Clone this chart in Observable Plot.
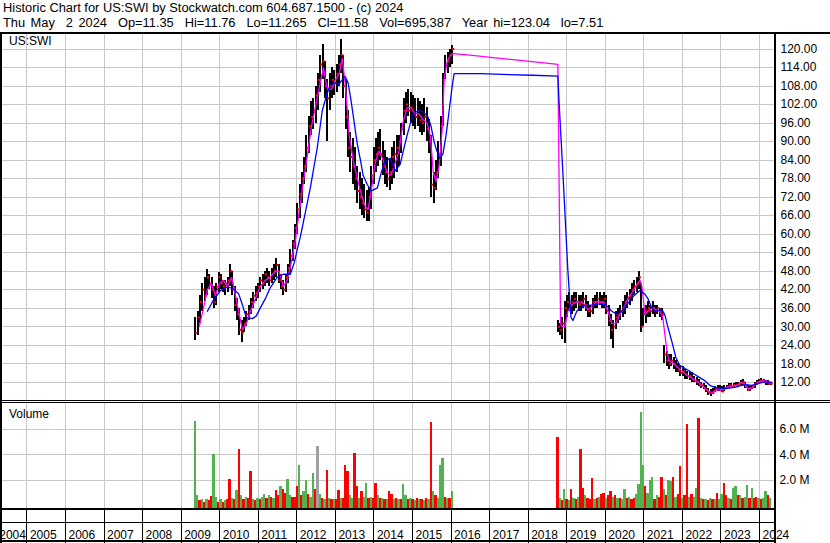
<!DOCTYPE html>
<html><head><meta charset="utf-8">
<script src="https://cdn.jsdelivr.net/npm/d3@7"></script>
<script src="https://cdn.jsdelivr.net/npm/@observablehq/plot@0.6"></script>
<style>
html,body{margin:0;padding:0;background:#fff;}
body{width:830px;height:543px;position:relative;overflow:hidden;font-family:"Liberation Sans",Arial,sans-serif;color:#000;}
.abs{position:absolute;}
.ttl{position:absolute;left:3px;font-size:12.85px;line-height:14.6px;white-space:pre;}
.ln{position:absolute;background:#000;}
.lbl{position:absolute;font-size:12px;line-height:12px;white-space:pre;}
svg{overflow:visible;}
</style></head><body>
<div class="ttl" style="top:1px">Historic Chart for US:SWI by Stockwatch.com 604.687.1500 - (c) 2024</div>
<div class="ttl" style="top:15.6px;word-spacing:1.9px">Thu May  2 2024  Op=11.35  Hi=11.76  Lo=11.265  Cl=11.58  Vol=695,387  Year hi=123.04  lo=7.51</div>
<div id="price" class="abs" style="left:0;top:32px"></div>
<div id="vol" class="abs" style="left:0;top:403px"></div>
<div id="years" class="abs" style="left:0;top:510px"></div>
<div class="lbl" style="left:9px;top:35px">US:SWI</div>
<div class="lbl" style="left:9px;top:408px">Volume</div>
<div class="ln" style="left:0;top:32px;width:830px;height:2px"></div>
<div class="ln" style="left:0;top:32px;width:2px;height:511px"></div>
<div class="ln" style="left:774px;top:32px;width:2px;height:511px"></div>
<div class="ln" style="left:0;top:400px;width:830px;height:1px"></div>
<div class="ln" style="left:0;top:402px;width:830px;height:1px"></div>
<div class="ln" style="left:0;top:508px;width:776px;height:2px"></div>
<div class="ln" style="left:0;top:522px;width:776px;height:1px"></div>
<div class="ln" style="left:0;top:540px;width:776px;height:2px"></div>
<script>
// ---- tick labels / categories ----
const priceTicks = [12,18,24,30,36,42,48,54,60,66,72,78,84,90,96,102,108,114,120];
const volTicks = [2,4,6];
const yearBounds = [2005,2006,2007,2008,2009,2010,2011,2012,2013,2014,2015,2016,2017,2018,2019,2020,2021,2022,2023,2024];
const yearLabels = ["2004","2005","2006","2007","2008","2009","2010","2011","2012","2013","2014","2015","2016","2017","2018","2019","2020","2021","2022","2023","2024"];

// ---- bar sampling (decimal years) ----
const stepYears = 0.06;
const startA = 2009.37;   // first listing period
const startB = 2018.77;   // relisting period

// ---- period A (2009-2016) ----
const lowA = [25.5,27,31,35,38,40,42,39,36,37, 41,42,41,40,41,43,40,35,32,27, 25,28,30,32,34,36,38,39,41,42,
 43,44,43,44,45,46,44,42,40,41, 44,47,51,55,60,65,70,76,80,86, 92,94,96,100,106,110,104,90,100,104,
 105,106,108,112,104,94,85,80,76,74, 70,68,66,65,64,64,68,76,80,82, 84,79,76,75,74,76,78,80,82,86,
 92,96,98,96,95,94,95,93,92,93, 90,86,72,70,74,78,82,95,110,112, 114,115];
const highA = [33,35,40,44,46,48.5,47,46,43,44, 47.5,47,45,45,46,50,48,43,39,36, 32,33,35,37,39,41,43,44,46,47,
 48,49,48,49,50,52,50,47,45,47, 50,55,58,63,70,76,80,85,92,98, 103,104,108,112,118,121.5,116,110,112,114,
 113,115,118,123,118,110,100,93,91,88, 82,80,78,76,74,75,82,88,91,93, 94,90,87,85,84,88,90,92,92,96,
 104,106,107,106,105,104,104,103,102,104, 101,97,92,80,84,90,98,112,118,119, 120,121];
const closeA = [28,33,38,42,40,46,44,42,38,43, 46,44,43,44,45,48,42,37,34,29, 28,31,34,35,38,40,41,43,45,44,
 47,46,45,47,48,50,45,43,42,46, 49,53,57,62,68,73,78,82,88,95, 98,100,105,110,115,116,108,104,108,110,
 109,112,115,118,108,98,88,85,82,78, 74,72,70,68,67,72,79,84,86,88, 86,82,80,78,80,85,86,88,90,94,
 100,102,100,101,99,98,100,97,96,98, 94,90,76,75,80,86,95,110,115,116, 118,120];
const volA = [6.6,0.85,0.4,0.5,0.3,0.5,0.4,0.75,4.0,0.7, 0.3,0.5,0.3,0.4,0.5,2.1,0.6,0.5,1.2,4.4,
 0.8,0.5,0.7,0.6,2.7,0.5,0.4,0.6,0.5,0.7, 0.9,0.6,0.8,0.7,0.6,1.2,0.8,1.5,1.3,1.0,
 2.1,0.8,0.7,0.7,1.5,3.15,0.8,1.1,2.0,0.9, 0.7,2.55,1.3,4.7,0.9,0.6,0.5,2.75,0.6,0.5,
 0.5,0.5,1.25,0.6,0.6,3.15,2.7,0.8,0.6,4.1, 1.5,0.6,1.1,0.7,1.8,0.6,0.7,0.6,1.8,0.8,
 0.6,0.6,0.5,0.5,1.1,0.9,0.5,0.6,0.5,0.5, 1.7,0.8,0.5,0.6,0.5,0.4,0.6,0.5,0.5,0.4,
 0.6,0.5,6.55,1.1,0.8,0.6,3.2,3.7,0.7,0.6, 0.6,1.1];
const dirA = ("ggrgrgrrgg"+"rgrgrrgrgr"+"grgrrgrgrg"+"grgrgrrgrr"+"ggrrrgrggr"+"ggrngrgrgr"+
 "grrgrrrggr"+"rgrggrgrrg"+"rgrgrrgrgr"+"ggrgrgrgrg"+"rgrgrgggrg"+"rg").split("");

// ---- period B (2018-2024) ----
const lowB = [28,27,26,24.5,33,35,34,35,36,35, 35,36,35,33,33,34,36,36,37,36, 36,34,30,26,23,29,31,32,33,34,
 36,37,38,40,41,42,28,30,31,33, 33,34,33,34,33,32,18,17,16,17, 16,15,15,14,14,13,13,12.5,12,12,
 11,10.5,10,9.5,8.5,7.6,7.5,8,8.5,9, 9,8.5,9,9.5,10,10,10,10.5,10.5,11, 11,10,9,9,9.5,10,11,11.5,11.5,11.5, 11,11,11];
const highB = [32,31,33,38,40,41,40,41,41,40, 40,41,40,38,37,39,40,41,41,40, 41,40,37,34,32,35,36,37,38,40,
 41,42,44,45,46,48,44,36,37,38, 37,38,37,37,36,36,24,22,21,21, 20,19,18,17,17,16,15.5,15,15,14,
 13.5,13,12,11.5,11,10,9.5,10,10.5,11, 11,10.5,11,11,11.5,11.5,11.5,12,12,12.5, 13,12,11,10.5,11,12,12.5,13,13.3,13, 12.5,12.5,12];
const closeB = [30,29,31,36,38,37,38,39,38,37, 38,39,37,35,35,38,38,39,38,38, 39,35,32,29,30,33,34,35,36,38,
 39,40,42,43,44,46,30,34,35,36, 35,36,35,36,35,34,21,19,18,19, 18,17,16,15,15.5,14.5,14,14,13,12.5,
 12,11,11,10,9.5,8.5,8.5,9,10,10, 9.5,9,10,10.5,11,10.5,11,11,11.5,12, 12,10.5,9.5,10,10.5,11.5,12,12.5,12.5,12, 12,11.5,11.6];
const volB = [5.4,0.6,0.4,1.3,0.5,0.4,1.3,0.6,0.5,0.7, 4.4,1.4,0.8,0.6,0.5,2.15,0.5,0.6,0.7,0.9,
 1.0,0.6,0.8,1.1,0.7,0.8,0.6,0.6,0.5,1.3, 0.6,0.7,0.5,0.6,0.9,1.7,7.3,3.2,1.5,1.0,
 2.0,2.2,0.5,0.8,0.7,2.2,1.3,0.8,2.0,1.9, 2.2,0.7,0.9,3.1,0.6,0.8,6.4,0.7,0.9,0.7,
 1.4,6.9,0.6,0.5,0.5,0.4,0.6,0.5,0.5,1.0, 0.5,0.9,1.8,0.8,0.6,0.5,1.4,1.5,0.8,0.8,
 0.6,0.7,1.6,0.6,1.4,0.6,0.7,0.6,0.5,0.6, 1.1,0.8,0.6];
const dirB = ("rgrgrgrgrg"+"rrgrrrgrgr"+"rgrrgrgrgg"+"rgrrggggrg"+"ggrgrrgrgg"+"rgrrgrrgrg"+
 "grgrgrgrgr"+"ggrrgrggrg"+"rggrgrrgrg"+"grg").split("");

// ---- moving averages [year, value] ----
const maShort = [[2009.47,30],[2009.58,36],[2009.68,42],[2009.79,44],[2009.89,40],[2009.99,44],[2010.10,45],[2010.20,43],[2010.31,46],[2010.38,42],[2010.49,35],[2010.59,29],[2010.69,31],[2010.80,35],[2010.92,39],[2011.05,43],[2011.18,45],[2011.31,46],[2011.44,48],[2011.54,48],[2011.65,43],[2011.75,45],[2011.86,51],[2011.96,58],[2012.07,68],[2012.17,77],[2012.28,86],[2012.38,95],[2012.48,101],[2012.59,108],[2012.69,114],[2012.79,107],[2012.90,107],[2013.00,110],[2013.10,112],[2013.18,117],[2013.26,108],[2013.36,92],[2013.46,84],[2013.57,78],[2013.67,73],[2013.77,69],[2013.85,68],[2013.93,74],[2014.03,83],[2014.13,87],[2014.24,84],[2014.34,80],[2014.44,79],[2014.55,83],[2014.65,87],[2014.75,96],[2014.86,101],[2014.96,101],[2015.07,99],[2015.17,99],[2015.28,97],[2015.38,96],[2015.46,92],[2015.54,80],[2015.61,77],[2015.69,82],[2015.77,94],[2015.82,110],[2015.90,116],[2015.98,118],[2016.05,118.5],[2016.49,118],[2017.27,117],[2018.04,116],[2018.77,115],[2018.84,31],[2018.87,30],[2018.95,30],[2019.03,35],[2019.13,37],[2019.24,38],[2019.34,38],[2019.44,37.5],[2019.55,35.5],[2019.65,36.5],[2019.75,38],[2019.86,38],[2019.96,38],[2020.07,35],[2020.17,31],[2020.27,31],[2020.38,34],[2020.48,36],[2020.58,39],[2020.69,41],[2020.79,43],[2020.90,45],[2020.95,43],[2021.03,34],[2021.11,35],[2021.21,36],[2021.31,35.5],[2021.41,35],[2021.49,33],[2021.60,22],[2021.65,19],[2021.78,18],[2021.91,16.5],[2022.04,15],[2022.16,14],[2022.29,13],[2022.42,12],[2022.55,10.5],[2022.68,9],[2022.78,8.6],[2022.89,9.5],[2022.99,9.5],[2023.10,9.8],[2023.20,10.5],[2023.30,10.8],[2023.41,11],[2023.51,11.8],[2023.61,11.5],[2023.69,10],[2023.80,10],[2023.90,11.5],[2024.00,12.2],[2024.11,12.5],[2024.21,12.3],[2024.31,11.8]];
const maLong = [[2009.68,35],[2009.81,38],[2009.92,40],[2010.02,41.7],[2010.18,42.8],[2010.33,42.5],[2010.49,40.7],[2010.59,37],[2010.69,33],[2010.85,32.6],[2010.95,33.5],[2011.05,36],[2011.18,39],[2011.31,42.6],[2011.49,46],[2011.65,47],[2011.83,47],[2011.94,51],[2012.01,55],[2012.09,59],[2012.22,67],[2012.35,75],[2012.53,88],[2012.66,100],[2012.77,105],[2012.87,108.5],[2012.98,109],[2013.08,108.5],[2013.18,110],[2013.26,111],[2013.33,109],[2013.41,103],[2013.49,96],[2013.57,89],[2013.65,84],[2013.72,79],[2013.83,76],[2013.93,74],[2014.09,75],[2014.19,80],[2014.29,83.6],[2014.42,84.6],[2014.55,80.5],[2014.68,82.6],[2014.78,88],[2014.88,93],[2015.01,98.8],[2015.14,100],[2015.27,99.7],[2015.40,98],[2015.48,95],[2015.56,90],[2015.63,87],[2015.71,84.6],[2015.79,86],[2015.87,92],[2015.95,100],[2016.03,108],[2016.08,112],[2016.75,112],[2018.12,111.5],[2018.77,111.2],[2018.80,103],[2018.90,80],[2019.03,48],[2019.11,33],[2019.16,32],[2019.26,35],[2019.39,36.5],[2019.55,37],[2019.73,37],[2019.86,37.5],[2020.02,37],[2020.17,35],[2020.30,34],[2020.43,35],[2020.58,37.5],[2020.74,40],[2020.90,41.7],[2021.03,40.5],[2021.11,39],[2021.21,36],[2021.31,35],[2021.47,35.5],[2021.54,34],[2021.62,30],[2021.73,25],[2021.83,20],[2021.93,17.5],[2022.06,16.5],[2022.19,15.5],[2022.32,14.5],[2022.45,13.5],[2022.58,12.5],[2022.71,11],[2022.84,10.3],[2022.97,10],[2023.17,10],[2023.36,10.3],[2023.49,10.8],[2023.64,11.2],[2023.80,11],[2023.95,11.5],[2024.11,12],[2024.31,12]];

// ---- build tables ----
const mk = (start, lo, hi, c, v, dir) => lo.map((l, i) => ({t: start + i * stepYears, lo: l, hi: hi[i], c: c[i], v: v[i], dir: dir[i]}));
const bars = mk(startA, lowA, highA, closeA, volA, dirA).concat(mk(startB, lowB, highB, closeB, volB, dirB));
const dirColor = {g: "#4fb44f", r: "#ff0000", n: "#a0a0a0"};

const xDomain = [2004.367, 2024.388];
const priceDomain = [6.068, 124.71];
const volDomain = [-0.196, 8.039];
const font = {fontFamily: "Liberation Sans, Arial, sans-serif", fontSize: "12px", color: "#000", background: "transparent", overflow: "visible"};
const grid = "#c8c8c8";

const pricePlot = Plot.plot({
  width: 830, height: 370, marginLeft: 2, marginRight: 56, marginTop: 2, marginBottom: 2,
  style: font,
  x: {type: "linear", domain: xDomain, axis: null},
  y: {domain: priceDomain, axis: "right", ticks: priceTicks, tickFormat: d => d.toFixed(2), tickSize: 0, tickPadding: 6, label: null},
  marks: [
    Plot.ruleX(yearBounds, {stroke: grid, shapeRendering: "crispEdges"}),
    Plot.ruleY(priceTicks, {stroke: grid, shapeRendering: "crispEdges"}),
    Plot.ruleX(bars, {x: "t", y1: "lo", y2: "hi", stroke: "#000", strokeWidth: 2, shapeRendering: "crispEdges"}),
    Plot.dot(bars, {x: "t", y: "c", symbol: "square", r: 1.2, fill: "#ff0000", stroke: null, dx: 1}),
    Plot.line(maShort, {x: d => d[0], y: d => d[1], stroke: "#ff00ff", strokeWidth: 1.3}),
    Plot.line(maLong, {x: d => d[0], y: d => d[1], stroke: "#0000ff", strokeWidth: 1.3})
  ]
});
document.getElementById("price").append(pricePlot);

const half = stepYears / 2;
const volPlot = Plot.plot({
  width: 830, height: 105, marginLeft: 2, marginRight: 56, marginTop: 0, marginBottom: 0,
  style: font,
  x: {type: "linear", domain: xDomain, axis: null},
  y: {domain: volDomain, axis: "right", ticks: volTicks, tickFormat: d => d.toFixed(1) + " M", tickSize: 0, tickPadding: 5, label: null},
  color: {type: "identity"},
  marks: [
    Plot.ruleX(yearBounds, {stroke: grid, shapeRendering: "crispEdges"}),
    Plot.ruleY(volTicks, {stroke: grid, shapeRendering: "crispEdges"}),
    Plot.rect(bars, {x1: d => d.t - half, x2: d => d.t + half, y1: volDomain[0], y2: "v", fill: d => dirColor[d.dir], shapeRendering: "crispEdges"})
  ]
});
document.getElementById("vol").append(volPlot);

const yearRows = yearLabels.slice(1).map((s, i) => ({t: yearBounds[i], s}));
const yearsPlot = Plot.plot({
  width: 830, height: 33, marginLeft: 2, marginRight: 56, marginTop: 0, marginBottom: 0,
  style: font,
  x: {type: "linear", domain: xDomain, axis: null},
  marks: [
    Plot.ruleX(yearBounds, {stroke: "#000", shapeRendering: "crispEdges"}),
    Plot.text(yearRows, {x: "t", text: "s", textAnchor: "start", dx: 3, frameAnchor: "bottom", dy: -5, fill: "#000"}),
    Plot.text([{t: yearBounds[0], s: yearLabels[0]}], {x: "t", text: "s", textAnchor: "end", dx: -1, frameAnchor: "bottom", dy: -5, fill: "#000"})
  ]
});
document.getElementById("years").append(yearsPlot);
</script>
</body></html>
